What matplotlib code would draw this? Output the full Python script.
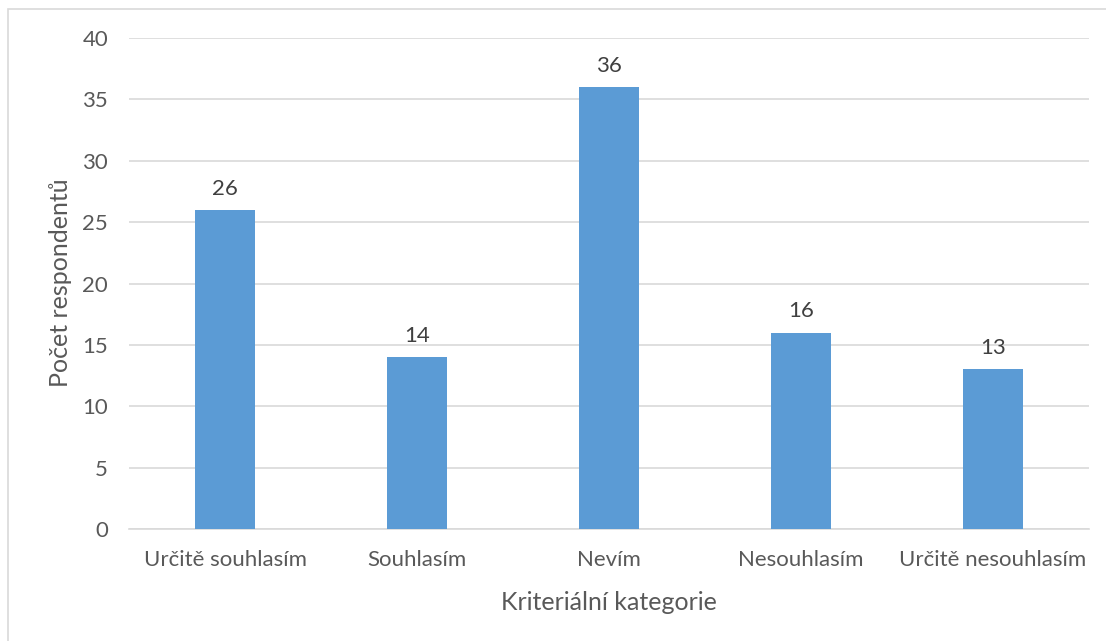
import matplotlib
matplotlib.use("Agg")
import matplotlib.pyplot as plt
from matplotlib.patches import Rectangle

categories = ["Určitě souhlasím", "Souhlasím", "Nevím", "Nesouhlasím", "Určitě nesouhlasím"]
values = [26, 14, 36, 16, 13]
yticks = [0, 5, 10, 15, 20, 25, 30, 35, 40]

plt.rcParams['font.family'] = ['Lato', 'DejaVu Sans']
txt = '#595959'
W, H = 1106, 641
fig = plt.figure(figsize=(W/100, H/100), dpi=100)
ax = fig.add_axes([129/W, 1-529/H, 960/W, (529-38)/H])

x = list(range(len(categories)))
ax.bar(x, values, width=0.3125, color='#5B9BD5', zorder=3)
for xi, v in zip(x, values):
    ax.annotate(str(v), (xi, v), xytext=(0, 8), textcoords='offset points',
                ha='center', va='bottom', fontsize=16, color='#404040')

ax.set_xlim(-0.5, len(categories)-0.5)
ax.set_ylim(0, 40)
ax.set_yticks(yticks)
ax.set_xticks(x)
ax.set_xticklabels(categories)
ax.tick_params(axis='both', length=0, labelsize=16, colors=txt)
ax.tick_params(axis='x', pad=15)
ax.tick_params(axis='y', pad=15)
ax.grid(axis='y', color='#D9D9D9', linewidth=1.2, zorder=0)
for s in ['top', 'right', 'left']:
    ax.spines[s].set_visible(False)
ax.spines['bottom'].set_color('#D9D9D9')
ax.spines['bottom'].set_linewidth(1.2)

fig.text(60/W, 1-283/H, 'Počet respondentů', rotation=90, ha='center', va='center',
         fontsize=18, color=txt)
fig.text(609/W, 1-603/H, 'Kriteriální kategorie', ha='center', va='center',
         fontsize=18, color=txt)

fig.patches.append(Rectangle((8/W, -0.1), 1.2, 1-9/H+0.1, transform=fig.transFigure,
                             fill=False, edgecolor='#D9D9D9', linewidth=1.2))
fig.savefig('out.png', dpi=100)
